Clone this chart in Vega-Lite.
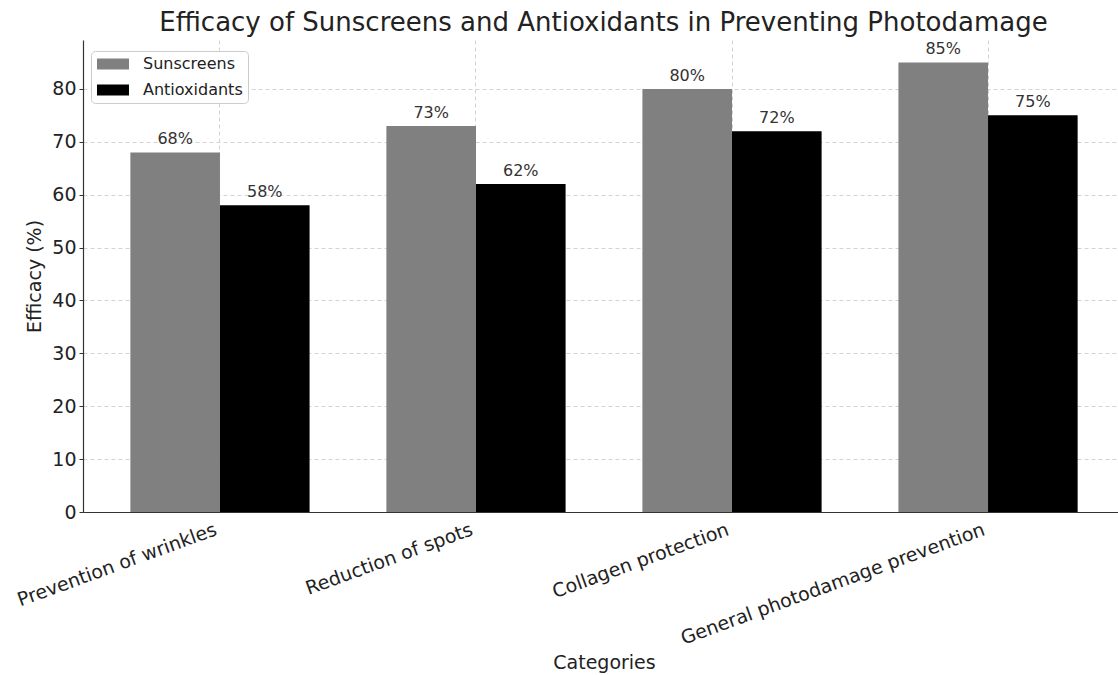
{
  "$schema": "https://vega.github.io/schema/vega-lite/v6.json",
  "autosize": {"type": "none"},
  "padding": {"left": 83, "top": 40, "right": 0, "bottom": 163},
  "width": 1035,
  "height": 472,
  "background": "white",
  "config": {
    "font": "DejaVu Sans",
    "view": {"stroke": null},
    "axis": {"labelFont": "DejaVu Sans", "titleFont": "DejaVu Sans", "labelColor": "#222", "titleColor": "#222", "titleFontWeight": "normal", "domainColor": "#333", "tickColor": "#333", "gridColor": "#c8c8c8", "gridDash": [4, 3], "gridWidth": 0.8}
  },
  "title": {"text": "Efficacy of Sunscreens and Antioxidants in Preventing Photodamage", "fontSize": 26, "fontWeight": "normal", "color": "#222", "anchor": "middle", "offset": 4, "dx": 3},
  "data": {
    "values": [
      {"category": "Prevention of wrinkles", "type": "Sunscreens", "efficacy": 68, "label": "68%"},
      {"category": "Prevention of wrinkles", "type": "Antioxidants", "efficacy": 58, "label": "58%"},
      {"category": "Reduction of spots", "type": "Sunscreens", "efficacy": 73, "label": "73%"},
      {"category": "Reduction of spots", "type": "Antioxidants", "efficacy": 62, "label": "62%"},
      {"category": "Collagen protection", "type": "Sunscreens", "efficacy": 80, "label": "80%"},
      {"category": "Collagen protection", "type": "Antioxidants", "efficacy": 72, "label": "72%"},
      {"category": "General photodamage prevention", "type": "Sunscreens", "efficacy": 85, "label": "85%"},
      {"category": "General photodamage prevention", "type": "Antioxidants", "efficacy": 75, "label": "75%"}
    ]
  },
  "encoding": {
    "x": {
      "field": "category", "type": "nominal", "sort": null,
      "scale": {"paddingInner": 0.3, "paddingOuter": 0.185, "range": [0, 1042]},
      "axis": {"title": "Categories", "titleFontSize": 19, "titlePadding": 6, "labelFontSize": 19, "labelLimit": 0, "labelAngle": -20, "labelAlign": "right", "labelBaseline": "top", "labelOffset": -7, "bandPosition": 0.5, "grid": true, "ticks": false, "labelPadding": 8, "domainWidth": 1.2}
    },
    "xOffset": {"field": "type", "type": "nominal", "sort": ["Sunscreens", "Antioxidants"], "scale": {"paddingInner": 0, "paddingOuter": 0}},
    "y": {
      "field": "efficacy", "type": "quantitative",
      "scale": {"domain": [0, 89.25], "nice": false},
      "axis": {"title": "Efficacy (%)", "titleFontSize": 19, "titlePadding": 7, "labelFontSize": 19, "labelPadding": 3, "values": [0, 10, 20, 30, 40, 50, 60, 70, 80], "grid": true, "tickSize": 4, "domainWidth": 1.2}
    }
  },
  "layer": [
    {
      "mark": {"type": "bar"},
      "encoding": {
        "color": {
          "field": "type", "type": "nominal",
          "scale": {"domain": ["Sunscreens", "Antioxidants"], "range": ["#808080", "#000000"]},
          "legend": {"title": null, "orient": "none", "legendX": 8, "legendY": 11, "labelFontSize": 16, "labelColor": "#222", "labelFont": "DejaVu Sans", "symbolType": "M-2,-0.6875H2V0.6875H-2Z", "symbolSize": 256, "symbolStrokeWidth": 0, "symbolOffset": 9, "labelOffset": 22, "strokeColor": "#cccccc", "fillColor": "white", "cornerRadius": 4, "padding": 5, "rowPadding": 10}
        }
      }
    },
    {
      "mark": {"type": "text", "baseline": "alphabetic", "dy": -8, "fontSize": 16, "color": "#333"},
      "encoding": {"text": {"field": "label", "type": "nominal"}}
    }
  ]
}
